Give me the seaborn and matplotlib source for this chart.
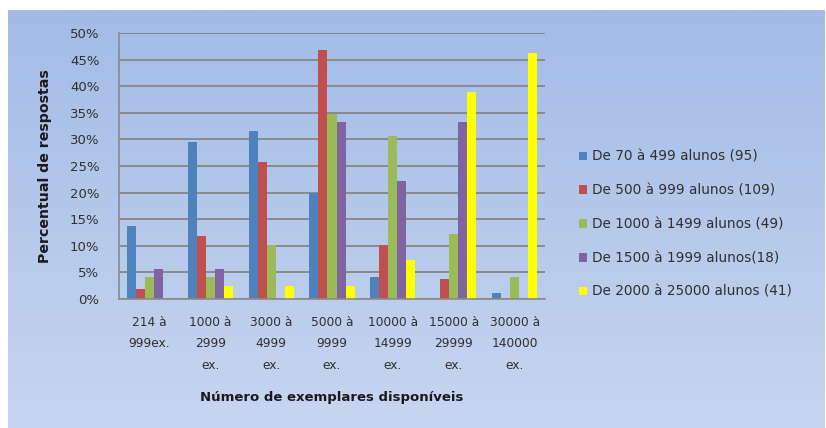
import numpy as np
import pandas as pd
import matplotlib
matplotlib.use("Agg")
import matplotlib.pyplot as plt
from matplotlib.ticker import PercentFormatter, MultipleLocator
import seaborn as sns

# Faixas de acervo (eixo x)
faixas = [
    "214 à\n999ex.",
    "1000 à\n2999\nex.",
    "3000 à\n4999\nex.",
    "5000 à\n9999\nex.",
    "10000 à\n14999\nex.",
    "15000 à\n29999\nex.",
    "30000 à\n140000\nex.",
]

# Grupos por número de alunos (legenda)
grupos = [
    "De 70 à 499 alunos (95)",
    "De 500 à 999 alunos (109)",
    "De 1000 à 1499 alunos (49)",
    "De 1500 à 1999 alunos(18)",
    "De 2000 à 25000 alunos (41)",
]

# Percentual de respostas por grupo
alunos_70_499 = [13.7, 29.5, 31.6, 20.0, 4.2, 0.0, 1.1]
alunos_500_999 = [1.8, 11.9, 25.7, 46.8, 10.1, 3.7, 0.0]
alunos_1000_1499 = [4.1, 4.1, 10.2, 34.7, 30.6, 12.2, 4.1]
alunos_1500_1999 = [5.6, 5.6, 0.0, 33.3, 22.2, 33.3, 0.0]
alunos_2000_25000 = [0.0, 2.4, 2.4, 2.4, 7.3, 39.0, 46.3]

cores = ["#4f81bd", "#c0504d", "#9bbb59", "#8064a2", "#ffff00"]

series = [alunos_70_499, alunos_500_999, alunos_1000_1499,
          alunos_1500_1999, alunos_2000_25000]
df = pd.DataFrame(
    [(f, g, v) for g, vals in zip(grupos, series) for f, v in zip(faixas, vals)],
    columns=["faixa", "grupo", "pct"],
)

sns.set_theme(style="white")
plt.rcParams["font.family"] = ["DejaVu Sans"]

W, H = 826, 428
fig = plt.figure(figsize=(W / 100, H / 100), dpi=100)
fig.patch.set_facecolor("white")

# Fundo em degradê da área do gráfico
bg = fig.add_axes([8 / W, 0, 1 - 9 / W, (H - 10) / H], zorder=0)
top = np.array([163, 187, 230]) / 255
bot = np.array([199, 214, 240]) / 255
t = np.linspace(0, 1, 256)[:, None]
grad = top[None, :] * (1 - t) + bot[None, :] * t
bg.imshow(grad[:, None, :], aspect="auto", extent=[0, 1, 0, 1])
bg.set_axis_off()

x0, x1 = 119, 545
y_top, y_bot = 33, 299
ax = fig.add_axes([x0 / W, 1 - y_bot / H, (x1 - x0) / W, (y_bot - y_top) / H], zorder=1)
ax.patch.set_alpha(0)

sns.barplot(
    data=df, x="faixa", y="pct", hue="grupo", hue_order=grupos,
    palette=cores, saturation=1, width=0.74, linewidth=0, ax=ax,
    errorbar=None,
)

ax.set_ylim(0, 50)
ax.yaxis.set_major_locator(MultipleLocator(5))
ax.yaxis.set_major_formatter(PercentFormatter(100, decimals=0))
ax.grid(axis="y", color="#8a8a8a", linewidth=1.4)
ax.set_axisbelow(True)
for s in ["top", "right"]:
    ax.spines[s].set_visible(False)
for s in ["left", "bottom"]:
    ax.spines[s].set_color("#8a8a8a")
    ax.spines[s].set_linewidth(1.2)

ax.tick_params(axis="y", labelsize=9.5, colors="#303030", length=4,
               width=1, color="#8a8a8a", pad=10)
ax.tick_params(axis="x", labelsize=8.8, colors="#303030", length=0, pad=12)
for lbl in ax.get_xticklabels():
    lbl.set_linespacing(1.85)

ax.set_xlabel("Número de exemplares disponíveis", fontsize=9.5,
              fontweight="bold", color="#1a1a1a", labelpad=14)
ax.set_ylabel("Percentual de respostas", fontsize=10.2,
              fontweight="bold", color="#1a1a1a", labelpad=13)

handles, labels = ax.get_legend_handles_labels()
ax.legend(
    handles, labels, loc="upper left",
    bbox_to_anchor=(572 / W, 1 - 143 / H), bbox_transform=fig.transFigure,
    frameon=False, fontsize=9.8, handlelength=0.6, handleheight=0.6,
    handletextpad=0.4, labelspacing=1.45, borderpad=0, labelcolor="#303030",
)

fig.savefig("out.png", dpi=100)
